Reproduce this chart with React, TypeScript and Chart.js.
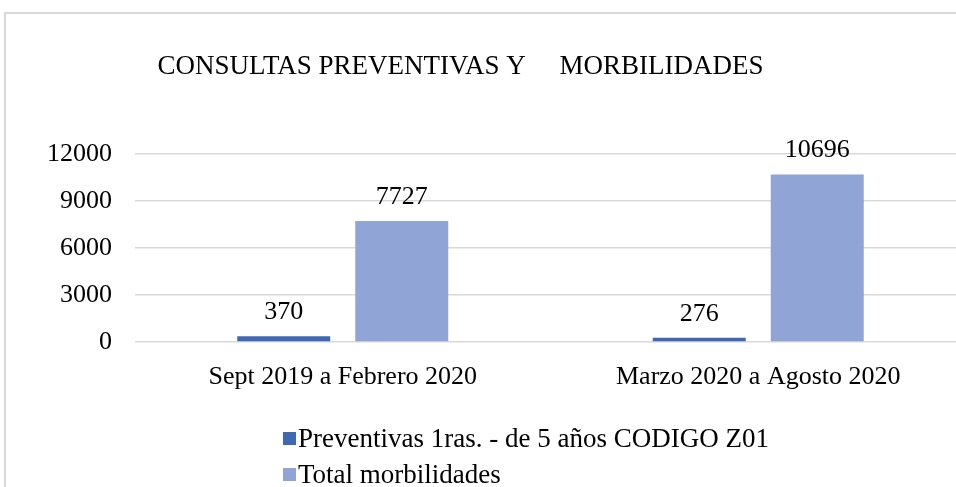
import React, { useEffect, useRef } from "react";
import { Chart, registerables } from "chart.js";

Chart.register(...registerables);

const categories = ["Sept 2019 a Febrero 2020", "Marzo 2020 a Agosto 2020"];
const preventivas = [370, 276];
const morbilidades = [7727, 10696];
const seriesNames = ["Preventivas 1ras. - de 5 años CODIGO Z01", "Total morbilidades"];
const seriesColors = ["#4068B2", "#90A5D5"];
const yTicks = [0, 3000, 6000, 9000, 12000];
const titleText = "CONSULTAS PREVENTIVAS Y     MORBILIDADES";

const FONT = "'Liberation Serif', 'Times New Roman', serif";
const CANVAS_W = 975;
const CANVAS_H = 487;

export default function App() {
  const ref = useRef<HTMLCanvasElement | null>(null);

  useEffect(() => {
    const canvas = ref.current;
    if (!canvas) return;

    const decorPlugin = {
      id: "decor",
      beforeDraw(chart: any) {
        const ctx = chart.ctx;
        ctx.save();
        ctx.fillStyle = "#ffffff";
        ctx.fillRect(0, 0, chart.width, chart.height);
        ctx.strokeStyle = "#D9D9D9";
        ctx.lineWidth = 2;
        ctx.beginPath();
        ctx.moveTo(5, chart.height + 2);
        ctx.lineTo(5, 13);
        ctx.lineTo(chart.width + 2, 13);
        ctx.stroke();
        ctx.restore();
      },
      afterDraw(chart: any) {
        const ctx = chart.ctx;
        ctx.save();
        // title
        ctx.fillStyle = "#000000";
        ctx.font = `27px ${FONT}`;
        ctx.textAlign = "center";
        ctx.textBaseline = "alphabetic";
        ctx.fillText(titleText, 460.5, 74);

        // data labels
        ctx.font = `26px ${FONT}`;
        chart.data.datasets.forEach((ds: any, di: number) => {
          const meta = chart.getDatasetMeta(di);
          meta.data.forEach((bar: any, i: number) => {
            ctx.fillText(String(ds.data[i]), bar.x, bar.y - 17);
          });
        });

        // legend
        ctx.font = `27px ${FONT}`;
        ctx.textAlign = "left";
        ctx.textBaseline = "alphabetic";
        const rows = [447, 483];
        chart.data.datasets.forEach((ds: any, di: number) => {
          const y = rows[di];
          ctx.fillStyle = ds.backgroundColor;
          ctx.fillRect(283, y - 15, 13, 13);
          ctx.fillStyle = "#000000";
          ctx.fillText(ds.label, 298, y);
        });
        ctx.restore();
      },
    };

    const chart = new Chart(canvas, {
      type: "bar",
      data: {
        labels: categories,
        datasets: [
          {
            label: seriesNames[0],
            data: preventivas,
            backgroundColor: seriesColors[0],
            categoryPercentage: 0.568,
            barPercentage: 0.788,
          },
          {
            label: seriesNames[1],
            data: morbilidades,
            backgroundColor: seriesColors[1],
            categoryPercentage: 0.568,
            barPercentage: 0.788,
          },
        ],
      },
      options: {
        responsive: false,
        animation: false,
        devicePixelRatio: 1,
        layout: { padding: { top: 154, right: 9, bottom: 85, left: 0 } },
        plugins: {
          legend: { display: false },
          title: { display: false },
          tooltip: { enabled: false },
        },
        scales: {
          x: {
            grid: { display: false },
            border: { display: false },
            ticks: {
              color: "#000000",
              font: { family: FONT, size: 26 },
              padding: 12,
              maxRotation: 0,
            },
            afterFit(scale: any) {
              scale.height = 60;
            },
          },
          y: {
            min: 0,
            max: 12000,
            afterBuildTicks(scale: any) {
              scale.ticks = yTicks.map((v) => ({ value: v }));
            },
            grid: { color: "#D9D9D9", lineWidth: 1.5, drawTicks: false },
            border: { display: false },
            ticks: {
              color: "#000000",
              font: { family: FONT, size: 26 },
              padding: 23,
              callback: (v: any) => String(v),
            },
            afterFit(scale: any) {
              scale.width = 135;
            },
          },
        },
      },
      plugins: [decorPlugin],
    });

    return () => chart.destroy();
  }, []);

  return (
    <div
      style={{
        position: "fixed",
        left: 0,
        top: 0,
        width: 956,
        height: 487,
        overflow: "hidden",
        background: "#ffffff",
      }}
    >
      <canvas
        ref={ref}
        width={CANVAS_W}
        height={CANVAS_H}
        style={{ width: CANVAS_W, height: CANVAS_H, display: "block" }}
      />
    </div>
  );
}
